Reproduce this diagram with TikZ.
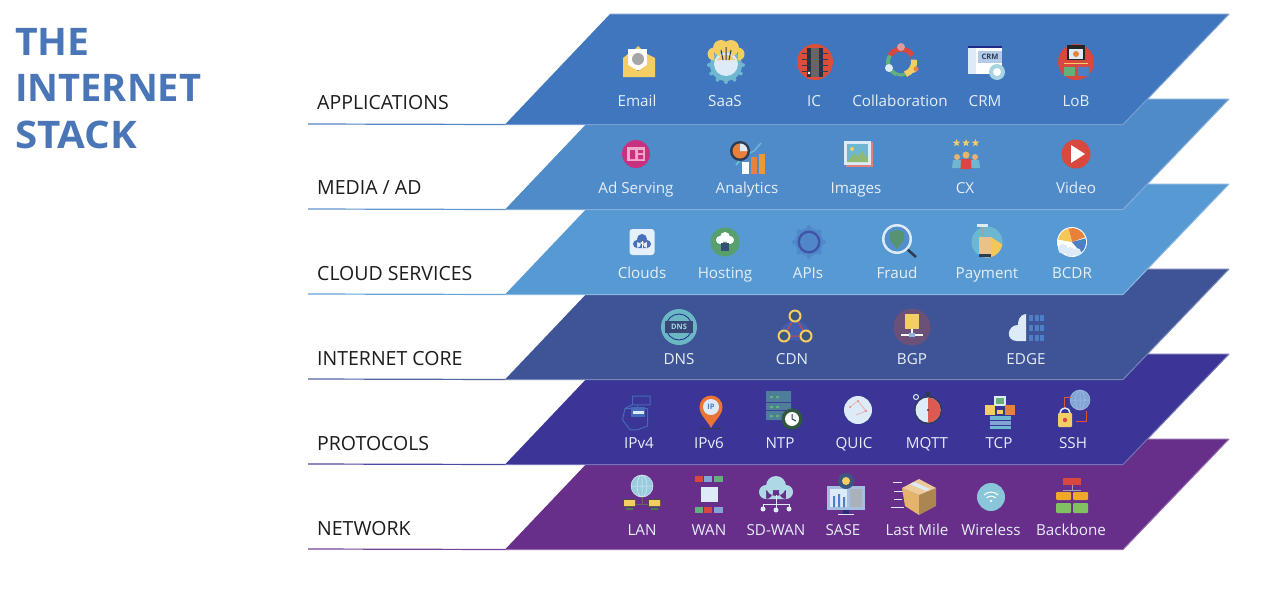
\documentclass[tikz,border=0pt]{standalone}
\usepackage{fontspec}
\setmainfont{Open Sans}
\usetikzlibrary{shapes.geometric}
\definecolor{cApps}{HTML}{3F76BD}
\definecolor{cMedia}{HTML}{4F8AC9}
\definecolor{cCloud}{HTML}{5799D3}
\definecolor{cCore}{HTML}{3F5497}
\definecolor{cProto}{HTML}{3A3596}
\definecolor{cNet}{HTML}{672F8A}
\definecolor{cTitle}{HTML}{4A76B8}
\definecolor{cInk}{HTML}{1C1C1C}
\definecolor{cLbl}{HTML}{E6EEF8}
\definecolor{iYel}{HTML}{F4CE62}
\definecolor{iOra}{HTML}{E8823A}
\definecolor{iRed}{HTML}{D9483F}
\definecolor{iGrn}{HTML}{62B17A}
\definecolor{iTeal}{HTML}{6DB8D0}
\definecolor{iPale}{HTML}{DCEBF7}
\definecolor{iBlu}{HTML}{4C7FC4}
\definecolor{iDrk}{HTML}{2E3B55}
\definecolor{iTan}{HTML}{E5B36C}
\definecolor{iPink}{HTML}{C8317F}
\definecolor{iPinkL}{HTML}{F0A9C8}
\definecolor{iMauve}{HTML}{6B5078}
\definecolor{iSrv}{HTML}{4F7E9A}
\definecolor{iSq}{HTML}{E6F0FB}
\tikzset{
  x=1pt,y=-1pt,
  plane/.style={line width=1pt,line join=miter},
  rowlabel/.style={anchor=base west,font=\fontsize{19.5}{22}\selectfont,text=cInk,inner sep=0pt},
  itemlabel/.style={anchor=base,font=\fontsize{15.2}{18}\selectfont,text=cLbl,inner sep=0pt},
  titletext/.style={anchor=west,font=\bfseries\fontsize{38}{42}\selectfont,text=cTitle,inner sep=0pt},
  icontext/.style={font=\bfseries\fontsize{7.5}{8}\selectfont,inner sep=0pt},
  email/.pic={
    \fill[iYel] (-3,-13) -- (0,-16) -- (3,-13) -- cycle;
    \fill[white] (-10,-13) -- (9,-13) -- (9,8) -- (-10,8) -- cycle;
    \fill[black!35] (0,-3) circle (6);
    \fill[iYel] (-15,-4) -- (-10,-8) -- (-10,3) -- (0,9) -- (9,3) -- (9,-8) -- (17,-4) -- (17,15) -- (-15,15) -- cycle;
  },
  saas/.pic={
    \fill[iTeal] (0,5) circle (16);
    \foreach \a in {0,30,...,330}{\fill[iTeal] (\a:17) ++(0,5) circle (2);}
    \fill[iPale] (0,4) circle (12);
    \fill[iYel] (-12,-6) circle (6.5) (12,-6) circle (6.5) (-5,-12) circle (8) (5,-12) circle (8) (-12,-8) rectangle (12,0);
    \draw[iDrk,line width=1pt] (-5,-10) -- (-3,0) (0,-13) -- (0,0) (5,-10) -- (3,0);
  },
  icchip/.pic={
    \fill[iRed!90!orange] (0,0) circle (18);
    \fill[iDrk!85!black] (-8,-14) rectangle (8,15);
    \fill[black!60] (-4,-14) rectangle (4,15);
    \foreach \y in {-9,-3,3,9}{\fill[iDrk] (-13,\y) rectangle (13,\y+1);\fill[black!60] (-4,\y) rectangle (4,\y+1);}
    \fill[white] (-6,11) circle (1.3);
  },
  collab/.pic={
    \draw[iRed,line width=5pt] (-150:13) arc (-150:-30:13);
    \draw[iGrn,line width=4pt] (110:13) arc (110:210:13);
    \draw[iGrn,line width=3pt] (70:13) arc (70:110:13);
    \draw[iYel,line width=6pt] (-10:13) arc (-10:70:13);
    \fill[iPale!50!iRed] (0,-15) circle (4);
    \fill[iPale] (-12,6) circle (4);
    \fill[iYel] (12,7) circle (4);
    \fill[iOra] (15,7) circle (2.5);
  },
  crmwin/.pic={
    \fill[iDrk!70!blue] (-17,-15) rectangle (17,-13);
    \fill[white] (-17,-13) rectangle (17,13);
    \fill[iPale] (-17,-13) rectangle (-9,13);
    \fill[iPale!70!iBlu] (-7,-10) rectangle (17,2);
    \node[icontext,text=iDrk] (crmtxt) at (5,-4) {CRM};
    \fill[iTeal!60!white] (12,11) circle (8);
    \fill[white] (12,11) circle (4);
  },
  lob/.pic={
    \fill[iRed] (0,0) circle (18);
    \fill[black!85] (-9,-17) rectangle (9,-2);
    \fill[iPale] (-7,-13) rectangle (7,-3);
    \fill[iOra] (0,-8) circle (3);
    \fill[iYel] (-12,1) rectangle (12,2);
    \fill[iGrn] (-12,5) rectangle (-1,14);
    \fill[iBlu] (2,5) rectangle (13,14);
  },
  adserve/.pic={
    \fill[iPink] (0,0) circle (14);
    \fill[iPinkL] (-9,-7) rectangle (9,7);
    \fill[iPink] (-6,-4) rectangle (-1,5) (2,-4) rectangle (7,-1) (2,1) rectangle (7,5);
  },
  analytics/.pic={
    \fill[white] (-6,5) rectangle (1,17);
    \fill[iOra] (3,0) rectangle (9,17);
    \fill[iOra!80!yellow] (11,-3) rectangle (17,17);
    \draw[iTeal,line width=1.5pt] (-2,-2) -- (6,-6) -- (13,-14);
    \draw[iTeal,line width=2pt] (-12,8) -- (-7,2);
    \fill[iDrk] (-8,-6) circle (10);
    \fill[iOra] (-8,-6) circle (7.5);
    \fill[iPale] (-8,-6) -- (-8,-13.5) arc (-90:0:7.5) -- cycle;
  },
  images/.pic={
    \fill[iRed!70!white] (-12,-12) rectangle (15,13);
    \fill[iPale] (-14,-13) rectangle (13,11);
    \fill[iTeal] (-11,-10) rectangle (10,8);
    \fill[iGrn!70!iYel] (-11,8) -- (-4,-1) -- (0,3) -- (4,-3) -- (10,5) -- (10,8) -- cycle;
    \fill[iYel] (-6,-5) circle (2);
  },
  cxicon/.pic={
    \foreach \x in {-9.5,0,9.5}{\node[star,star points=5,star point ratio=2.4,fill=iYel,minimum size=8pt,inner sep=0pt] at (\x,-11) {};}
    \foreach \x in {-9,9}{\fill[iTeal] (\x-5,14) -- (\x-4,6) -- (\x+4,6) -- (\x+5,14) -- cycle; \fill[iTan] (\x,3) circle (3);}
    \fill[iRed] (-5.5,15) -- (-5,5) -- (5,5) -- (5.5,15) -- cycle; \fill[iTan] (0,1) circle (3.5);
  },
  video/.pic={
    \fill[iRed] (0,0) circle (14.5);
    \fill[white] (-5,-9) -- (9,0) -- (-5,9) -- cycle;
  },
  cloudsq/.pic={
    \fill[iSq,rounded corners=3pt] (-12.5,-13) rectangle (12.5,13);
    \fill[iBlu!80!cProto] (-5,2) circle (4) (0,-3) circle (5) (5,2) circle (4) (-5,0) rectangle (5,6);
    \draw[white,line width=1pt] (0,-1) -- (0,6);
  },
  hosting/.pic={
    \fill[iGrn!90!black] (0,0) circle (14.5);
    \fill[white] (-5,-2) circle (4) (0,-5) circle (5) (5,-2) circle (4);
    \fill[iDrk!70!iBlu] (-4,1) rectangle (4,9);
  },
  apis/.pic={
    \fill[iBlu!60!cCloud] (0,0) circle (14);
    \foreach \a in {0,45,...,315}{\fill[iBlu!60!cCloud] (\a:14.5) circle (2.5);}
    \fill[iBlu!40!cProto] (0,0) circle (11.5);
    \fill[iBlu!70!cCloud] (0,0) circle (9);
  },
  fraud/.pic={
    \draw[iDrk,line width=2.5pt] (10,10) -- (19,18);
    \fill[iPale] (0,0) circle (15);
    \fill[cCloud!60!iBlu] (0,0) circle (12.5);
    \fill[iGrn!75!iDrk] (-7,-7) -- (0,-9) -- (7,-7) -- (7,1) -- (0,10) -- (-7,1) -- cycle;
  },
  payment/.pic={
    \fill[iTeal] (0,0) circle (15.5);
    \begin{scope}
      \clip (0,0) circle (15.5);
      \fill[iYel!90!orange] (-3,16) -- (4,-5) -- (16,3) -- (16,16) -- cycle;
    \end{scope}
    \fill[iTan!80!white] (-8,-5) rectangle (4,12);
    \fill[iPale] (-10,-18) rectangle (1,-15);
    \fill[iPale!70!black] (-6,-15) rectangle (-3,-6);
    \fill[iDrk] (-8,12) rectangle (4,15);
  },
  bcdr/.pic={
    \fill[white] (0,0) circle (15);
    \fill[iOra] (0,0) -- (-105:14) arc (-105:-20:14) -- cycle;
    \fill[iYel!90!orange] (0,0) -- (-170:14) arc (-170:-105:14) -- cycle;
    \fill[iBlu] (0,0) -- (-15:14) arc (-15:50:14) -- cycle;
    \fill[iPale] (-9,7) circle (5) (-2,10) circle (5) (5,10) circle (4);
  },
  dnsicon/.pic={
    \fill[iTeal!85!iGrn] (0,0) circle (18);
    \draw[iDrk!70!blue,line width=.8pt] (0,0) circle (13);
    \fill[iDrk!50!cCore] (-14,-6) rectangle (14,6);
    \node[icontext,text=iTeal!60!white] (dnstxt) at (0,0) {DNS};
  },
  cdnicon/.pic={
    \fill[iBlu!55!cProto] (-16,11) arc (180:360:16) -- cycle;
    \fill[iBlu!55!cProto] (0,11) circle (1pt) (-16,11) rectangle (16,14);
    \draw[iRed,line width=1pt] (0,-10) -- (-11,10) -- (11,10) -- cycle;
    \foreach \p in {(0,-10),(-11,10),(11,10)}{\fill[iYel] \p circle (6.5); \fill[iDrk!60!iBlu] \p circle (4.5);}
  },
  bgpicon/.pic={
    \fill[iMauve] (0,0) circle (18.5);
    \fill[iYel] (-7,-13) rectangle (7,2);
    \draw[white,line width=1.2pt] (0,2) -- (0,8) (-11,8) -- (11,8);
    \fill[iBlu!60!white] (-3,6) rectangle (3,10);
  },
  edgeicon/.pic={
    \fill[iPale] (0,-13) .. controls (-7,-12) and (-8,-6) .. (-8,-2) .. controls (-19,-2) and (-21,14) .. (-9,14) -- (0,14) -- cycle;
    \foreach \x in {3,9,14}{\foreach \y in {-12,-2,8}{\fill[iBlu] (\x,\y) rectangle (\x+3.5,\y+6);}}
  },
  ipfour/.pic={
    \begin{scope}[scale=1.25]
    \draw[iBlu!70!cProto,line width=1pt] (-6,-12) -- (8,-12) -- (8,-5) -- (-6,-5) -- cycle (-12,-2) -- (-6,-5) (-2,-5) -- (-2,-2) -- (6,-2) -- (6,12) -- (-2,15) -- (-8,15) -- (-14,7) -- (-12,-2) -- (-2,-2);
    \fill[iBlu!70!cProto] (-7,-3) rectangle (4,5);
    \fill[iPale] (-6,0) rectangle (3,2);
    \end{scope}
  },
  ipsix/.pic={
    \fill[iDrk] (-11,17.5) rectangle (11,19);
    \fill[iOra!90!red] (-11.5,-3) arc (180:360:11.5) .. controls (11.5,5) and (4,10) .. (0,18) .. controls (-4,10) and (-11.5,5) .. (-11.5,-3) -- cycle;
    \fill[iPale] (0,-3) circle (8);
    \node[icontext,text=iBlu] (iptxt) at (0,-3) {IP};
  },
  ntpicon/.pic={
    \fill[iSrv] (-13,-16) rectangle (12,-5) (-13,-4) rectangle (12,3) (-13,4) rectangle (12,13);
    \foreach \y in {-11,-1,8}{\fill[iGrn] (-9,\y) rectangle (-6,\y+2) (-3,\y) rectangle (0,\y+2);}
    \fill[iGrn!50!black] (13,12) circle (10.5);
    \fill[white] (13,12) circle (7);
    \draw[iDrk,line width=1pt] (13,7) -- (13,12) -- (17,14);
  },
  quicicon/.pic={
    \fill[iPale] (0,0) circle (14);
    \draw[iRed!50!white,line width=.6pt] (-8,-3) -- (0,-9) -- (8,1) -- (-2,5);
    \fill[iRed!70!white] (-8,-3) circle (1) (0,-9) circle (1) (8,1) circle (1);
  },
  mqtticon/.pic={
    \fill[iDrk] (0,2) circle (14);
    \fill[iPale] (0,2) circle (12.5);
    \fill[iRed!90!white] (0,-10.5) arc (-90:90:12.5) -- cycle;
    \fill[iDrk] (-2,-16) rectangle (2,-12);
    \draw[iPale,line width=1pt] (-12,-11) circle (2.5);
    \fill[iDrk] (0,2) circle (1.2);
  },
  tcpicon/.pic={
    \fill[iPale] (-6,-15) rectangle (6,-5);
    \fill[iGrn] (-4,-13) rectangle (4,-7);
    \fill[iYel] (-15,-6) rectangle (-5,4);
    \fill[iOra] (5,-6) rectangle (15,4);
    \fill[iYel] (-3,-1) rectangle (3,3);
    \fill[iTeal] (-10,5) rectangle (11,9);
    \fill[iBlu!70!white] (-10,10) rectangle (11,14);
    \fill[iTeal] (-10,15) rectangle (11,18);
  },
  sshicon/.pic={
    \fill[iBlu!70!white] (7,-10) circle (10);
    \draw[iPale!60!iBlu,line width=.5pt] (7,-10) circle (10) (7,-20) -- (7,0) (-3,-10) -- (17,-10);
    \draw[iPale!60!iBlu,line width=.5pt] (7,-10) ellipse (4.5 and 10);
    \draw[iRed!80!orange,line width=1pt] (-9,-3) -- (-9,-13) -- (-2,-13) (3,11) -- (13,11) -- (13,1);
    \draw[iPale,line width=1.5pt] (-13,3) arc (180:360:5);
    \fill[iYel,rounded corners=1pt] (-15,3) rectangle (-1,17);
    \fill[iRed] (-8,10) circle (2.2);
  },
  lanicon/.pic={
    \fill[iTeal!70!white] (0,-11) circle (11);
    \draw[iPale,line width=.5pt] (0,-11) circle (11) (0,-22) -- (0,0) (-11,-11) -- (11,-11);
    \draw[iPale,line width=.5pt] (0,-11) ellipse (5 and 11);
    \draw[black!60,line width=.8pt] (0,0) -- (0,7) (-7,7) -- (7,7);
    \fill[black!70] (-19,2) rectangle (-6,10) (6,2) rectangle (19,10);
    \fill[iYel] (-18,3) rectangle (-7,9) (7,3) rectangle (18,9);
    \fill[iGrn!70!black] (-16,11) rectangle (-9,13) (9,11) rectangle (16,13);
  },
  wanicon/.pic={
    \fill[iRed] (-14,-18) rectangle (-6,-12);
    \fill[iBlu!70!white] (-5,-18) rectangle (3,-12);
    \fill[iGrn] (5,-18) rectangle (14,-12);
    \fill[iPale] (-8,-7) rectangle (9,8);
    \fill[iGrn] (-14,13) rectangle (-6,19);
    \fill[iRed] (-5,13) rectangle (3,19);
    \fill[iBlu!70!white] (5,13) rectangle (14,19);
  },
  sdwan/.pic={
    \fill[iTeal!55!white] (-10,-4) circle (7) (10,-4) circle (7) (0,-10) circle (10) (-10,-6) rectangle (10,3);
    \draw[iPale,line width=.8pt] (0,-1) -- (0,13) (-13,13) -- (-13,8) -- (13,8) -- (13,13);
    \fill[iPale] (-13,13) circle (2.5) (0,14) circle (2.5) (13,13) circle (2.5);
  },
  saseicon/.pic={
    \fill[iBlu!50!white] (-19,-8) rectangle (19,16);
    \fill[iDrk!80!blue] (-3,16) rectangle (3,20);
    \fill[iPale] (-8,20) rectangle (8,21);
    \fill[iPale] (-16,-5) rectangle (1,13);
    \fill[iBlu] (-13,2) rectangle (-11,13) (-8,0) rectangle (-6,13) (-3,3) rectangle (-1,13);
    \fill[iDrk!40!white] (4,-5) rectangle (16,13);
    \fill[iDrk!60!iBlu] (0,-13) circle (8);
    \fill[iYel] (0,-13) circle (4);
  },
  lastmile/.pic={
    \draw[iPale,line width=1pt] (-20,-13) -- (-11,-13) (-19,-4) -- (-10,-4) (-19,4) -- (-11,4) (-22,12) -- (-9,12);
    \fill[iTan] (-11,-7) -- (6,0) -- (6,20) -- (-8,11) -- cycle;
    \fill[iTan!75!black] (6,0) -- (23,-7) -- (23,11) -- (6,20) -- cycle;
    \fill[iTan!70!white] (-11,-7) -- (6,-16) -- (23,-7) -- (6,0) -- cycle;
    \fill[iPale] (-3,-11) -- (1,-13) -- (17,-6) -- (13,-4) -- cycle;
  },
  wireless/.pic={
    \fill[iTeal!80!white] (0,0) circle (14);
    \draw[white,line width=1pt] (-7,-2) arc (225:315:10);
    \draw[white,line width=1pt] (-4.5,1) arc (225:315:6.5);
    \fill[white] (0,4) circle (1.3);
  },
  backbone/.pic={
    \fill[iRed] (-9,-18) rectangle (9,-11);
    \draw[iPale!70!black,line width=.6pt] (0,-11) -- (0,-6) (-9,-6) -- (9,-6);
    \fill[iOra!70!yellow,rounded corners=1pt] (-16,-4) rectangle (-1,4) (1,-4) rectangle (16,4);
    \fill[iGrn!80!yellow,rounded corners=1pt] (-16,7) rectangle (-1,17) (1,7) rectangle (16,17);
  },
}
% #1 colour, #2 top y, #3 name
\newcommand{\layerplane}[3]{%
  \coordinate (#3tl) at (610,#2);
  \coordinate (#3tr) at (1229,#2);
  \coordinate (#3br) at (1123,#2+110.5);
  \coordinate (#3bl) at (505,#2+110.5);
  \coordinate (#3start) at (308,#2+110);
  \fill[#1] (#3tl) -- (#3tr) -- (#3br) -- (#3bl) -- cycle;
  \draw[#1!70!white,plane] (#3tl) -- (#3tr) (#3bl) -- (#3br) -- (#3tr);
  \draw[#1!90!white,line width=1.2pt] (#3start) -- (#3bl);
}
\newcommand{\icon}[6]{%
  \pic at (#2,#3) {#1};
  \node[itemlabel] (#1lab) at (#4,#5+5.5) {#6};
}
\begin{document}
\begin{tikzpicture}
\useasboundingbox (0,0) rectangle (1268,592);
\fill[white] (0,0) rectangle (1268,592);
\node[titletext,xscale=1.03] (t1) at (15,42) {THE};
\node[titletext] (t2) at (15,88) {INTERNET};
\node[titletext,xscale=1.06] (t3) at (15,135) {STACK};

\layerplane{cNet}{439}{net}
\layerplane{cProto}{354}{proto}
\layerplane{cCore}{269}{core}
\layerplane{cCloud}{184}{cloud}
\layerplane{cMedia}{99}{media}
\layerplane{cApps}{14}{apps}

\node[rowlabel] (rapps) at (317,109) {APPLICATIONS};
\node[rowlabel] (rmedia) at (317,194) {MEDIA / AD};
\node[rowlabel] (rcloud) at (317,280) {CLOUD SERVICES};
\node[rowlabel] (rcore) at (317,365) {INTERNET CORE};
\node[rowlabel] (rproto) at (317,450) {PROTOCOLS};
\node[rowlabel] (rnet) at (317,535) {NETWORK};

\icon{email}{638}{62}{637}{101}{Email}
\icon{saas}{726}{60}{725}{101}{SaaS}
\icon{icchip}{815}{62}{814}{101}{IC}
\icon{collab}{901}{62}{900}{101}{Collaboration}
\icon{crmwin}{985}{61}{985}{101}{CRM}
\icon{lob}{1076}{62}{1076}{101}{LoB}

\icon{adserve}{636}{154}{636}{188}{Ad Serving}
\icon{analytics}{748}{157}{747}{188}{Analytics}
\icon{images}{858}{154}{856}{188}{Images}
\icon{cxicon}{966}{154}{965}{188}{CX}
\icon{video}{1076}{154}{1076}{188}{Video}

\icon{cloudsq}{642}{242}{642}{273}{Clouds}
\icon{hosting}{725}{242}{725}{273}{Hosting}
\icon{apis}{809}{242}{808}{273}{APIs}
\icon{fraud}{897}{239}{897}{273}{Fraud}
\icon{payment}{987}{242}{987}{273}{Payment}
\icon{bcdr}{1072}{242}{1072}{273}{BCDR}

\icon{dnsicon}{679}{327}{679}{359}{DNS}
\icon{cdnicon}{795}{326}{792}{359}{CDN}
\icon{bgpicon}{912}{327}{912}{359}{BGP}
\icon{edgeicon}{1026}{327}{1026}{359}{EDGE}

\icon{ipfour}{640}{411}{639}{443}{IPv4}
\icon{ipsix}{711}{410}{709}{443}{IPv6}
\icon{ntpicon}{779}{407}{780}{443}{NTP}
\icon{quicicon}{858}{410}{854}{443}{QUIC}
\icon{mqtticon}{928}{408}{927}{443}{MQTT}
\icon{tcpicon}{1000}{411}{999}{443}{TCP}
\icon{sshicon}{1073}{410}{1073}{443}{SSH}

\icon{lanicon}{642}{497}{642}{530}{LAN}
\icon{wanicon}{709}{494}{709}{530}{WAN}
\icon{sdwan}{776}{496}{776}{530}{SD-WAN}
\icon{saseicon}{846}{494}{843}{530}{SASE}
\icon{lastmile}{913}{495}{917}{530}{Last Mile}
\icon{wireless}{991}{497}{991}{530}{Wireless}
\icon{backbone}{1072}{496}{1071}{530}{Backbone}
\end{tikzpicture}
\end{document}
